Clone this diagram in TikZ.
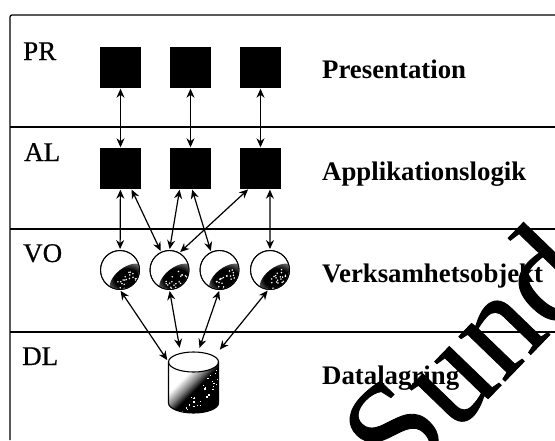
\documentclass[tikz,border=0pt]{standalone}
\usepackage{fontspec}
\setmainfont{Liberation Serif}
\newfontface\labelface[FakeBold=0.6]{Liberation Serif}
\usetikzlibrary{arrows.meta,calc}
\pgfdeclareradialshading{spot}{\pgfpoint{0bp}{0bp}}{color(0bp)=(black);color(16bp)=(black);color(28bp)=(black!55);color(42bp)=(white);color(50bp)=(white)}
\pgfdeclareverticalshading{bandfade}{100bp}{color(0bp)=(black);color(50bp)=(black);color(56bp)=(black!50);color(64bp)=(white);color(100bp)=(white)}
\pgfmathsetseed{7}
\tikzset{
  x=1pt,y=-1pt,
  frameline/.style={line width=1.3pt,black},
  sq/.style={draw=black,fill=black,minimum size=40pt,inner sep=0pt,rectangle},
  ball/.style={draw=black,line width=0.9pt,fill=white,circle,minimum size=39pt,inner sep=0pt},
  both/.style={line width=1.2pt,{Stealth[length=9pt,width=8pt]}-{Stealth[length=9pt,width=8pt]},shorten <=1pt,shorten >=1pt},
  abbr/.style={anchor=base west,inner sep=0pt,font=\labelface\fontsize{27}{27}\selectfont},
  layer/.style={anchor=base west,inner sep=0pt,font=\fontsize{26.8}{27}\selectfont\bfseries},
  mark wm/.style={anchor=base west,font=\labelface\fontsize{140}{140}\selectfont,rotate=46,inner sep=0pt},
}
\newcommand{\ballshade}[1]{%
  \begin{scope}
    \clip (#1) circle (19pt);
    \begin{scope}[shift={(#1)},rotate=-52]
      \shade[shift={(11,0)},shading=spot] (0,0) ellipse (11pt and 20pt);
      \foreach \k in {1,...,20}{
        \pgfmathsetmacro{\dx}{6+rnd*12}
        \pgfmathsetmacro{\dy}{-11+rnd*22}
        \fill[white] (\dx,\dy) rectangle +(1.2,1.2);
      }
    \end{scope}
  \end{scope}
  \draw[line width=0.9pt] (#1) circle (19.5pt);
}
\begin{document}
\begin{tikzpicture}
\useasboundingbox (0,0) rectangle (555,440);
\clip (0,0) rectangle (555,440);
% frame
\draw[frameline,rounded corners=2pt] (10,440) -- (10,15) -- (555,15);
\draw[frameline] (10,127) -- (555,127);
\draw[frameline] (10,229) -- (555,229);
\draw[frameline] (10,332) -- (555,332);
% labels
\node[abbr] (pr) at (23,60) {PR};
\node[abbr] (al) at (24,161) {AL};
\node[abbr] (vo) at (23,262) {VO};
\node[abbr] (dl) at (22,365) {DL};
\node[layer] (tp) at (322,78) {Presentation};
\node[layer] (ta) at (322,180) {Applikationslogik};
\node[layer] (tv) at (322,282) {Verksamhetsobjekt};
\node[layer] (td) at (322,384) {Datalagring};
% squares
\node[sq] (p1) at (120.5,67.5) {};
\node[sq] (p2) at (190.5,67.5) {};
\node[sq] (p3) at (260.5,67.5) {};
\node[sq] (a1) at (120.5,168.5) {};
\node[sq] (a2) at (190.5,168.5) {};
\node[sq] (a3) at (260.5,168.5) {};
% balls
\node[ball] (b1) at (120,270) {};
\node[ball] (b2) at (169.5,270) {};
\node[ball] (b3) at (219.5,270) {};
\node[ball] (b4) at (270,270) {};
\ballshade{b1.center}
\ballshade{b2.center}
\ballshade{b3.center}
\ballshade{b4.center}
% cylinder
\node[minimum width=51pt,minimum height=64pt,inner sep=0pt] (db) at (193.5,381) {};
\begin{scope}
  \clip (168.5,362) -- (168.5,403) arc[start angle=180,end angle=360,x radius=25pt,y radius=10pt] -- (218.5,362) -- cycle;
  \shade[shading=bandfade,shading angle=45] (165,360) rectangle (225,420);
  \foreach \k in {1,...,40}{
    \pgfmathsetmacro{\py}{370+rnd*42}
    \pgfmathsetmacro{\px}{178+(412-\py)*0.85+rnd*16}
    \fill[white] (\px,\py) rectangle +(1.2,1.2);
  }
\end{scope}
\draw[line width=1.1pt,fill=white] (193.5,362) ellipse (25pt and 10pt);
\draw[line width=1.1pt] (168.5,362) -- (168.5,403) arc[start angle=180,end angle=360,x radius=25pt,y radius=10pt] -- (218.5,362);
% connectors
\draw[both] (p1) -- (a1);
\draw[both] (p2) -- (a2);
\draw[both] (p3) -- (a3);
\draw[both] (a1) -- (b1);
\draw[both] (a1.-62) -- (b2.115);
\draw[both] (a2.-118) -- (b2.north);
\draw[both] (a2.-86) -- (b3.115);
\draw[both] (a3.-120) -- (b2.60);
\draw[both] (a3.-65) -- (b4.north);
\draw[both] (b1.south) -- (db.142);
\draw[both] (b2.south) -- (db.113);
\draw[both] (b3.south) -- (db.80);
\draw[both] (b4.-95) -- (db.50);
% watermark
\node[mark wm] (wm) at (400,490) {Sund};
\end{tikzpicture}
\end{document}
